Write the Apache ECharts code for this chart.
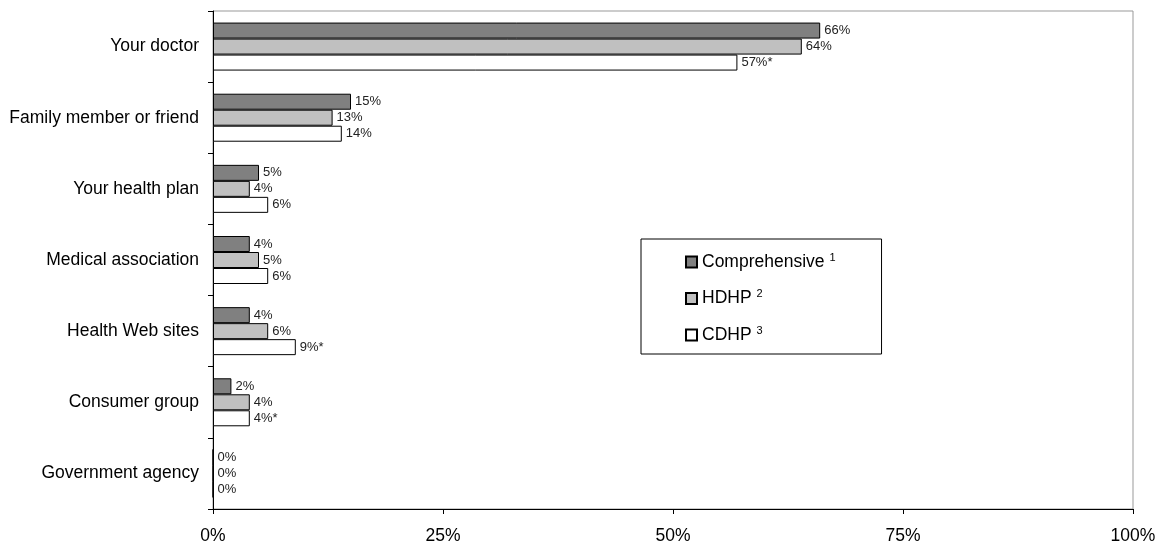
<!DOCTYPE html>
<html>
<head>
<meta charset="utf-8">
<script src="https://cdn.jsdelivr.net/npm/echarts@6/dist/echarts.min.js"></script>
<style>html,body{margin:0;padding:0;background:#fff}#c{width:1161px;height:545px}</style>
</head>
<body>
<div id="c"></div>
<script>
var categories = ["Your doctor", "Family member or friend", "Your health plan", "Medical association", "Health Web sites", "Consumer group", "Government agency"];
var comprehensive = [66, 15, 5, 4, 4, 2, 0];
var hdhp = [64, 13, 4, 5, 6, 4, 0];
var cdhp = [57, 14, 6, 6, 9, 4, 0];
var cdhpNotes = ["*", "", "", "", "*", "*", ""];
var seriesNames = ["Comprehensive", "HDHP", "CDHP"];
var seriesSup = ["1", "2", "3"];
var xTicks = [0, 25, 50, 75, 100];

var FONT = "Liberation Sans, Arial, sans-serif";
function mkSeries(name, data, color, notes) {
  return {
    name: name, type: "bar", data: data,
    barWidth: 16, barGap: "0%",
    itemStyle: { color: color, borderColor: "#000", borderWidth: 1 },
    label: {
      show: true, position: "right", distance: 4,
      fontFamily: FONT, fontSize: 13, color: "#222",
      formatter: function (p) { return p.value + "%" + (notes ? notes[p.dataIndex] : ""); }
    },
    emphasis: { disabled: true },
    animation: false
  };
}
var chart = echarts.init(document.getElementById("c"));
chart.setOption({
  backgroundColor: "#fff",
  animation: false,
  grid: { left: 213, right: 28, top: 11, bottom: 35, show: true, borderColor: "#999", borderWidth: 1, backgroundColor: "transparent" },
  legend: {
    orient: "vertical", left: 641, top: 239,
    padding: [13, 46, 9, 44], itemGap: 16.5, itemWidth: 11, itemHeight: 11,
    icon: "rect",
    borderColor: "#000", borderWidth: 1,
    textStyle: { fontFamily: FONT, fontSize: 17.5, color: "#000", lineHeight: 20,
      rich: { sup: { fontFamily: FONT, fontSize: 11, color: "#000", lineHeight: 20, padding: [0, 0, 9, 0] } } },
    formatter: function (n) { var i = seriesNames.indexOf(n); return n + " {sup|" + seriesSup[i] + "}"; },
    data: seriesNames
  },
  xAxis: {
    type: "value", min: 0, max: 100, interval: 25,
    axisLine: { show: true, lineStyle: { color: "#000" } },
    axisTick: { show: true, length: 5, lineStyle: { color: "#000" } },
    splitLine: { show: false },
    axisLabel: { fontFamily: FONT, fontSize: 17.5, color: "#000", margin: 18,
      formatter: function (v) { return xTicks.indexOf(v) >= 0 ? v + "%" : ""; } }
  },
  yAxis: {
    type: "category", data: categories, inverse: true,
    axisLine: { show: true, lineStyle: { color: "#000" } },
    axisTick: { show: true, length: 5, lineStyle: { color: "#000" } },
    axisLabel: { fontFamily: FONT, fontSize: 17.5, color: "#000", margin: 14 }
  },
  series: [
    mkSeries(seriesNames[0], comprehensive, "#808080", null),
    mkSeries(seriesNames[1], hdhp, "#c0c0c0", null),
    mkSeries(seriesNames[2], cdhp, "#ffffff", cdhpNotes)
  ]
});
</script>
</body>
</html>
